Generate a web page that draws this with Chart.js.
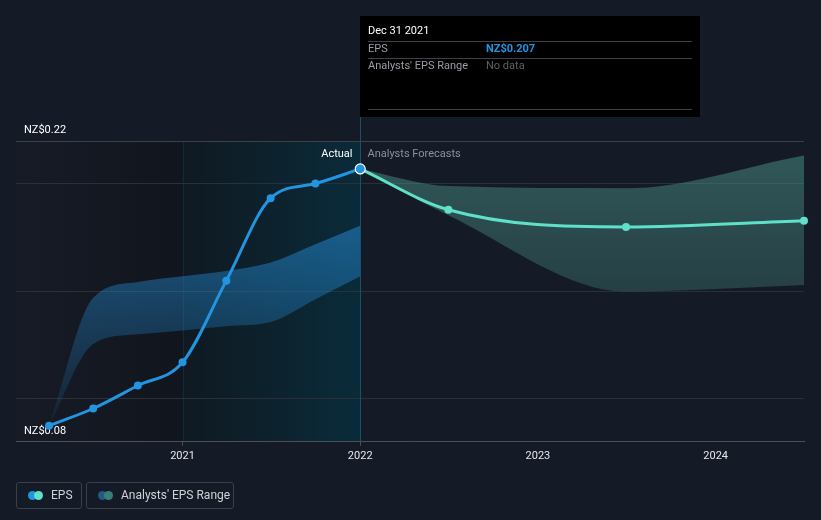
<!DOCTYPE html>
<html>
<head>
<meta charset="utf-8">
<script src="https://cdn.jsdelivr.net/npm/chart.js@4.4.0/dist/chart.umd.min.js"></script>
<style>
  body { margin: 0; background: #151b26; font-family: Roboto, "Noto Sans", sans-serif; }
  #wrap { position: relative; width: 821px; height: 520px; }
  #myChart { position: absolute; left: 0; top: 0; }
  .leg { position: absolute; top: 482px; height: 27px; border: 1px solid #3a3f49; border-radius: 3px;
         box-sizing: border-box; color: #cfd2d6; font-size: 12px; line-height: 25px; }
  .dot { position: absolute; top: 8px; width: 9px; height: 9px; border-radius: 50%; }
</style>
</head>
<body>
<div id="wrap">
  <canvas id="myChart" width="821" height="520"></canvas>
  <div class="leg" style="left:16px;width:66px;">
    <span class="dot" style="left:11px;background:#2394df"></span>
    <span class="dot" style="left:17px;background:#5fe0c9"></span>
    <span style="position:absolute;left:34px">EPS</span>
  </div>
  <div class="leg" style="left:86px;width:148px;">
    <span class="dot" style="left:11px;background:#1f5b85"></span>
    <span class="dot" style="left:17px;background:#3b7e78"></span>
    <span style="position:absolute;left:34px">Analysts' EPS Range</span>
  </div>
</div>
<script>
// values
var actualDates = ['2020-03-31', '2020-06-30', '2020-09-30', '2020-12-31', '2021-03-31', '2021-06-30', '2021-09-30', '2021-12-31'];
var actualEps   = [0.0875, 0.0955, 0.1062, 0.117, 0.155, 0.1934, 0.2002, 0.207];
var actualHigh  = [0.0875, 0.147, 0.1544, 0.157, 0.1595, 0.1634, 0.172, 0.1806];
var actualLow   = [0.0875, 0.1255, 0.130, 0.1318, 0.1338, 0.1357, 0.1463, 0.157];

var forecastDates = ['2021-12-31', '2022-06-30', '2023-06-30', '2024-06-30'];
var forecastEps   = [0.207, 0.188, 0.180, 0.1829];
var forecastHigh  = [0.207, 0.199, 0.198, 0.2133];
var forecastLow   = [0.207, 0.1855, 0.150, 0.153];

var yTicks = [0.08, 0.1, 0.15, 0.2, 0.22];
var xTicks = [2021, 2022, 2023, 2024];

// date string -> decimal year
function decYear(s) {
  var p = s.split('-');
  var y = +p[0];
  var start = Date.UTC(y, 0, 1);
  var end = Date.UTC(y + 1, 0, 1);
  var t = Date.UTC(y, +p[1] - 1, +p[2] + 1);
  return y + (t - start) / (end - start);
}

function pts(dates, vals) {
  var out = [];
  for (var i = 0; i < dates.length; i++) out.push({ x: decYear(dates[i]), y: vals[i] });
  return out;
}

function vGrad(ctx, y0, y1, c0, c1) {
  var area = ctx.chart.chartArea;
  if (!area) return c0;
  var yy = ctx.chart.scales.y;
  var g = ctx.chart.ctx.createLinearGradient(0, yy.getPixelForValue(y0), 0, yy.getPixelForValue(y1));
  g.addColorStop(0, c0);
  g.addColorStop(1, c1);
  return g;
}

// shaded past regions + divider lines
var regions = {
  id: 'regions',
  beforeDraw: function(chart) {
    var c = chart.ctx, a = chart.chartArea, x = chart.scales.x;
    var x21 = x.getPixelForValue(2021), x22 = x.getPixelForValue(2022);
    c.save();
    var g1 = c.createLinearGradient(a.left, 0, x21, 0);
    g1.addColorStop(0, '#161b26');
    g1.addColorStop(1, '#11151d');
    c.fillStyle = g1;
    c.fillRect(a.left, a.top, x21 - a.left, a.bottom - a.top);
    var g2 = c.createLinearGradient(x21, 0, x22, 0);
    g2.addColorStop(0, '#0f1921');
    g2.addColorStop(1, '#0a2b3a');
    c.fillStyle = g2;
    c.fillRect(x21, a.top, x22 - x21, a.bottom - a.top);
    c.strokeStyle = '#132a34';
    c.lineWidth = 1;
    c.beginPath();
    c.moveTo(Math.round(x21) + 0.5, a.top);
    c.lineTo(Math.round(x21) + 0.5, a.bottom);
    c.stroke();
    c.restore();
  },
  afterDraw: function(chart) {
    var c = chart.ctx, a = chart.chartArea, x = chart.scales.x;
    var x22 = Math.round(x.getPixelForValue(2022)) + 0.5;
    c.save();
    c.strokeStyle = '#1d5064';
    c.lineWidth = 1;
    c.beginPath();
    c.moveTo(x22, 117);
    c.lineTo(x22, a.bottom);
    c.stroke();

    c.font = '11px Roboto';
    c.textBaseline = 'middle';
    c.textAlign = 'right';
    c.fillStyle = '#ffffff';
    c.fillText('Actual', x22 - 8, 154);
    c.textAlign = 'left';
    c.fillStyle = '#8b9099';
    c.fillText('Analysts Forecasts', x22 + 7, 154);

    // redraw last actual point on top of the divider
    var p = chart.getDatasetMeta(0).data[lastIdx];
    c.beginPath();
    c.arc(p.x, p.y, 5, 0, Math.PI * 2);
    c.fillStyle = '#2394df';
    c.fill();
    c.lineWidth = 1.2;
    c.strokeStyle = '#ffffff';
    c.stroke();

    // tooltip box
    var bx = x22 - 0.5;
    c.fillStyle = '#000000';
    c.fillRect(bx, 16, 340, 101);
    c.strokeStyle = '#3d4047';
    c.lineWidth = 1;
    c.beginPath();
    c.moveTo(bx + 8, 41.5); c.lineTo(bx + 332, 41.5);
    c.moveTo(bx + 8, 58.5); c.lineTo(bx + 332, 58.5);
    c.moveTo(bx + 8, 109.5); c.lineTo(bx + 332, 109.5);
    c.stroke();
    c.font = '11px Roboto';
    c.fillStyle = '#ffffff';
    c.fillText('Dec 31 2021', bx + 8, 31);
    c.fillStyle = '#9a9ea5';
    c.fillText('EPS', bx + 8, 49);
    c.fillText("Analysts' EPS Range", bx + 8, 66);
    c.fillStyle = '#5c6068';
    c.fillText('No data', bx + 126, 66);
    c.font = 'bold 11px Roboto';
    c.fillStyle = '#2394df';
    c.fillText('NZ$0.207', bx + 126, 49);
    c.restore();
  }
};

var lastIdx = actualDates.length - 1;

new Chart(document.getElementById('myChart'), {
  type: 'line',
  data: {
    datasets: [
      {
        label: 'EPS',
        data: pts(actualDates, actualEps),
        borderColor: '#2394df',
        backgroundColor: '#2394df',
        borderWidth: 3,
        cubicInterpolationMode: 'monotone',
        pointRadius: function(ctx) { return ctx.dataIndex == lastIdx ? 0 : 4; },
        pointBorderWidth: 0,
        fill: false,
        order: 0
      },
      {
        label: 'EPS forecast',
        data: pts(forecastDates, forecastEps),
        borderColor: '#5fe0c9',
        backgroundColor: '#5fe0c9',
        borderWidth: 3,
        cubicInterpolationMode: 'monotone',
        pointRadius: function(ctx) { return ctx.dataIndex == 0 ? 0 : 4; },
        pointBorderWidth: 0,
        fill: false,
        order: 1
      },
      {
        label: 'range high',
        data: pts(actualDates, actualHigh),
        borderWidth: 0,
        pointRadius: 0,
        cubicInterpolationMode: 'monotone',
        fill: false,
        order: 3
      },
      {
        label: 'range low',
        data: pts(actualDates, actualLow),
        borderWidth: 0,
        pointRadius: 0,
        cubicInterpolationMode: 'monotone',
        fill: 2,
        backgroundColor: function(ctx) { return vGrad(ctx, 0.18, 0.085, 'rgba(33,125,190,0.62)', 'rgba(33,125,190,0.08)'); },
        order: 3
      },
      {
        label: 'forecast high',
        data: pts(forecastDates, forecastHigh),
        borderWidth: 0,
        pointRadius: 0,
        cubicInterpolationMode: 'monotone',
        fill: false,
        order: 3
      },
      {
        label: 'forecast low',
        data: pts(forecastDates, forecastLow),
        borderWidth: 0,
        pointRadius: 0,
        cubicInterpolationMode: 'monotone',
        fill: 4,
        backgroundColor: function(ctx) { return vGrad(ctx, 0.215, 0.15, 'rgba(78,150,140,0.5)', 'rgba(78,150,140,0.3)'); },
        order: 3
      }
    ]
  },
  options: {
    responsive: false,
    animation: false,
    clip: false,
    layout: { padding: { left: 0, right: 17, top: 141, bottom: 53 } },
    plugins: { legend: { display: false }, tooltip: { enabled: false } },
    scales: {
      x: {
        type: 'linear',
        min: decYear('2020-01-23'),
        max: decYear('2024-06-30'),
        afterBuildTicks: function(axis) { axis.ticks = xTicks.map(function(v) { return { value: v }; }); },
        grid: {
          drawOnChartArea: false,
          tickLength: 4,
          color: function(ctx) { return ctx.tick && ctx.tick.value <= 2022 ? '#4a4f58' : 'rgba(0,0,0,0)'; }
        },
        border: { color: '#4a4f58', width: 1 },
        ticks: {
          color: '#e6e7e9',
          font: { family: 'Roboto', size: 11 },
          padding: 4,
          maxRotation: 0,
          callback: function(v) { return String(v); }
        }
      },
      y: {
        min: 0.08,
        max: 0.22,
        afterBuildTicks: function(axis) { axis.ticks = yTicks.map(function(v) { return { value: v }; }); },
        border: { display: false },
        grid: {
          drawTicks: false,
          color: function(ctx) {
            if (!ctx.tick) return '#2a2f38';
            if (ctx.tick.value == 0.22) return '#3b4049';
            if (ctx.tick.value == 0.08) return 'rgba(0,0,0,0)';
            return '#2a2f38';
          }
        },
        ticks: {
          mirror: true,
          padding: 8,
          labelOffset: -11,
          color: '#ffffff',
          font: { family: 'Roboto', size: 11 },
          callback: function(v) {
            if (v == 0.22 || v == 0.08) return 'NZ$' + v.toFixed(2);
            return '';
          }
        }
      }
    }
  },
  plugins: [regions]
});
</script>
</body>
</html>
